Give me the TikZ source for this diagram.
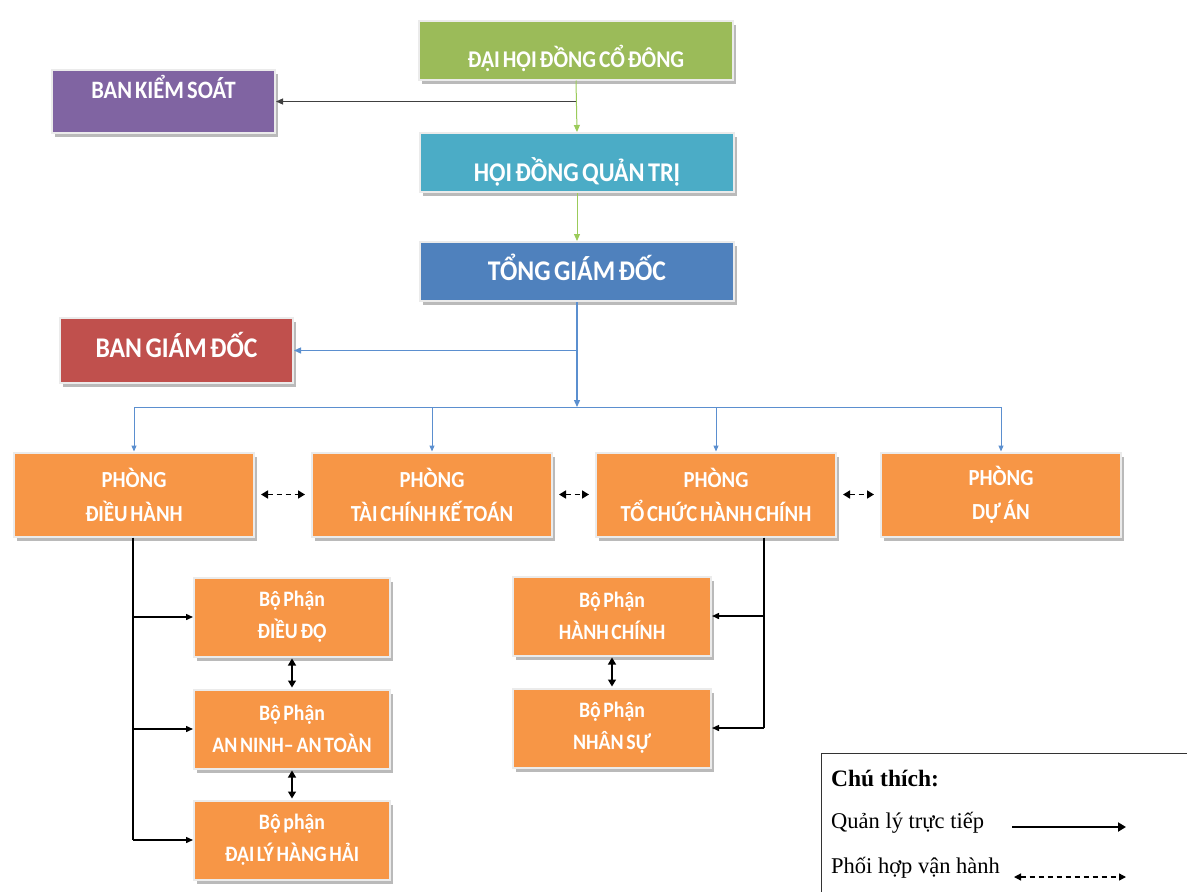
\documentclass[tikz,border=0pt]{standalone}
\usepackage{fontspec}
\setmainfont{Carlito}[FakeStretch=0.9, WordSpace=0.6]
\newfontfamily\legendfont{Liberation Serif}
\usetikzlibrary{arrows.meta,shadows,calc}
\definecolor{cgreen}{HTML}{9BBB59}
\definecolor{cpurple}{HTML}{8064A2}
\definecolor{ccyan}{HTML}{4BACC6}
\definecolor{cblue}{HTML}{4F81BD}
\definecolor{cred}{HTML}{C0504D}
\definecolor{corange}{HTML}{F79646}
\definecolor{lgreen}{HTML}{9BCB5A}
\definecolor{lblue}{HTML}{5B8FCF}
\newcommand{\fs}[2]{\bfseries\fontsize{#1}{#2}\selectfont}
\begin{document}
\begin{tikzpicture}[x=1pt,y=-1pt,
  box/.style={rectangle, draw=black!8, line width=2pt, text=white, align=center, inner sep=1pt,
    drop shadow={shadow xshift=3pt,shadow yshift=-4pt,fill=black!45,opacity=0.6}},
  topbox/.style={box, minimum width=314pt, minimum height=59pt},
  dept/.style={box, fill=corange, minimum width=240pt, minimum height=84pt, font=\fs{23}{34}},
  subbox/.style={box, fill=corange, minimum width=196pt, minimum height=79pt, font=\fs{22}{32}},
  tip/.style={-{Triangle[length=7pt,width=6pt]}},
  dtip/.style={{Triangle[length=7pt,width=8pt]}-{Triangle[length=7pt,width=8pt]}},
  gline/.style={draw=lgreen, line width=1pt, tip},
  bline/.style={draw=lblue, line width=1.3pt},
  kline/.style={draw=black, line width=1.4pt},
  coop/.style={draw=black, line width=1.6pt, dash pattern=on 5pt off 4pt, dtip, shorten >=6pt, shorten <=6pt},
  legtxt/.style={anchor=base west, inner sep=0pt, font=\legendfont\fontsize{22.5}{26}\selectfont}
]
\useasboundingbox (0,0) rectangle (1187,892);

% top chain
\node[topbox, fill=cgreen, font=\fs{24}{28}, text height=34.5pt, text depth=0pt] (dh) at (576,50) {ĐẠI HỘI ĐỒNG CỔ ĐÔNG};
\node[topbox, fill=ccyan, font=\fs{27}{30}, text height=37.4pt, text depth=0pt] (hd) at (577,162.5) {HỘI ĐỒNG QUẢN TRỊ};
\node[topbox, fill=cblue, font=\fs{28.5}{32}, text height=18.4pt, text depth=0pt] (tgd) at (577,271.5) {TỔNG GIÁM ĐỐC};
\node[box, fill=cpurple, minimum width=223pt, minimum height=63pt, font=\fs{25}{28}, text height=0pt, text depth=6pt] (bks) at (163.5,101.5) {BAN KIỂM SOÁT};
\node[box, fill=cred, minimum width=233pt, minimum height=65pt, font=\fs{28.5}{32}, text height=14.4pt, text depth=0pt] (bgd) at (176.5,350.5) {BAN GIÁM ĐỐC};

\draw[gline] (dh.south) -- (hd.north);
\draw[gline] (hd.south) -- (tgd.north);
\draw[draw=black!75, line width=1.2pt, tip] (dh.south |- bks.east) -- (bks.east);

% departments
\node[dept] (pdh) at (134,494.5) {PHÒNG\\ĐIỀU HÀNH};
\node[dept] (ptk) at (432,494.5) {PHÒNG\\TÀI CHÍNH KẾ TOÁN};
\node[dept] (ptc) at (716,494.5) {PHÒNG\\TỔ CHỨC HÀNH CHÍNH};
\node[dept] (pda) at (1001,494.5) {PHÒNG\\DỰ ÁN};

\coordinate (bus) at (577,407);
\draw[bline, tip] (tgd.south) -- (bus);
\draw[bline, tip] (tgd.south |- bgd.east) -- (bgd.east);
\draw[bline, line width=1pt] (pdh.north |- bus) -- (pda.north |- bus);
\foreach \d in {pdh,ptk,ptc,pda}{
  \draw[bline, line width=1pt, -{Triangle[length=6pt,width=5pt]}] (\d.north |- bus) -- (\d.north);
}
\draw[coop] (pdh.east) -- (ptk.west);
\draw[coop] (ptk.east) -- (ptc.west);
\draw[coop] (ptc.east) -- (pda.west);

% sub units left
\node[subbox] (dd) at (292,617) {Bộ Phận\\ĐIỀU ĐỘ};
\node[subbox] (an) at (292,729) {Bộ Phận\\AN NINH– AN TOÀN};
\node[subbox] (dl) at (292,840) {Bộ phận\\ĐẠI LÝ HÀNG HẢI};
\coordinate (lv) at ([xshift=-1pt]pdh.south);
\draw[kline] (lv) -- (lv |- dl.west);
\foreach \s in {dd,an,dl}{
  \draw[kline, tip] (lv |- \s.west) -- (\s.west);
}
\draw[kline, dtip, shorten >=1pt, shorten <=1pt] (dd.south) -- (an.north);
\draw[kline, dtip, shorten >=1pt, shorten <=1pt] (an.south) -- (dl.north);

% sub units right
\node[subbox, minimum width=198pt] (hc) at (612,616) {Bộ Phận\\HÀNH CHÍNH};
\node[subbox, minimum width=198pt] (ns) at (612,728) {Bộ Phận\\NHÂN SỰ};
\coordinate (rv) at ([xshift=48pt]ptc.south);
\draw[kline] (rv) -- (rv |- ns.east);
\foreach \s in {hc,ns}{
  \draw[kline, tip] (rv |- \s.east) -- (\s.east);
}
\draw[kline, dtip, shorten >=1pt, shorten <=1pt] (hc.south) -- (ns.north);

% legend
\node[draw=black!80, line width=1.2pt, rectangle, minimum width=400pt, minimum height=160pt, anchor=north west] (legend) at (821,753) {};
\node[legtxt, font=\legendfont\bfseries\fontsize{23.5}{26}\selectfont] (l0) at (831,786) {Chú thích:};
\node[legtxt] (l1) at (831,828) {Quản lý trực tiếp};
\node[legtxt] (l2) at (831,873) {Phối hợp vận hành};
\coordinate (a1s) at (1012,827);
\coordinate (a1e) at (1126,827);
\coordinate (a2s) at (1014,877);
\coordinate (a2e) at (1126,877);
\draw[draw=black, line width=2.6pt, -{Triangle[length=8pt,width=9pt]}] (a1s) -- (a1e);
\draw[draw=black, line width=1.3pt, dash pattern=on 5pt off 4pt, {Triangle[length=7pt,width=7pt]}-{Triangle[length=7pt,width=7pt]}] (a2s) -- (a2e);
\end{tikzpicture}
\end{document}
